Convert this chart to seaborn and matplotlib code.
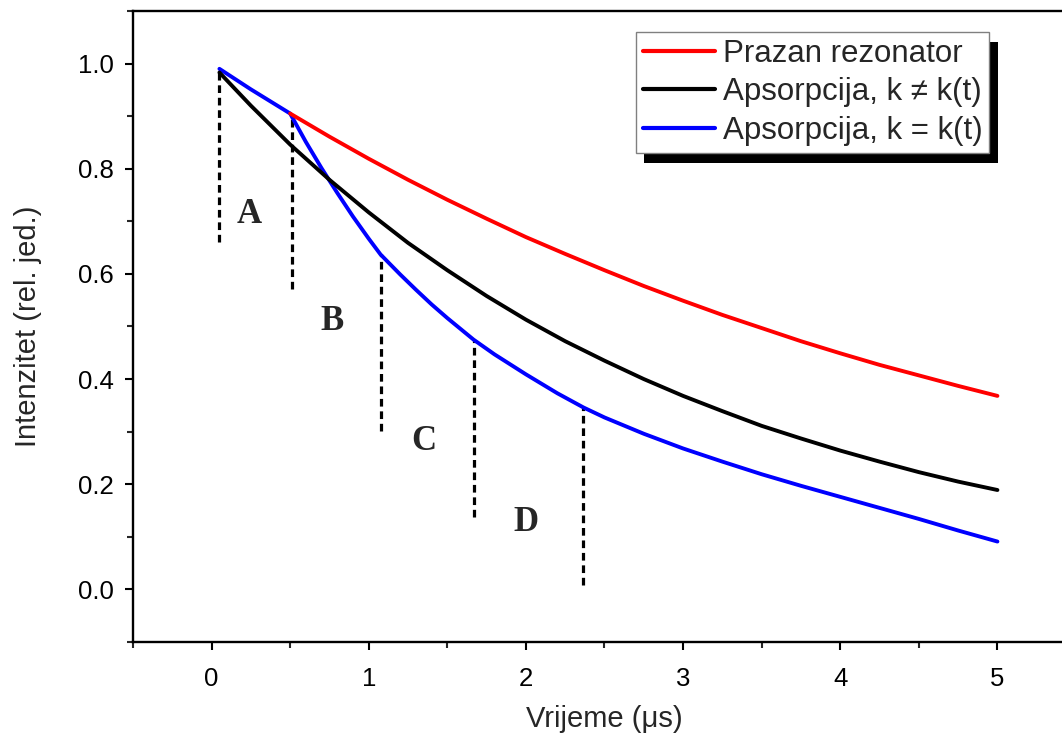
import matplotlib
matplotlib.use("Agg")
import matplotlib.pyplot as plt
import matplotlib.patheffects as pe
import numpy as np
import pandas as pd
import seaborn as sns

# ---------------- data ----------------
t_red = [0.5, 0.75, 1.0, 1.25, 1.5, 1.75, 2.0, 2.25, 2.5, 2.75, 3.0, 3.25,
         3.5, 3.75, 4.0, 4.25, 4.5, 4.75, 5.0]
i_red = [0.905, 0.861, 0.819, 0.779, 0.741, 0.705, 0.670, 0.638, 0.607, 0.577,
         0.549, 0.522, 0.497, 0.472, 0.449, 0.427, 0.407, 0.387, 0.368]

t_black = [0.05, 0.25, 0.5, 0.75, 1.0, 1.25, 1.5, 1.75, 2.0, 2.25, 2.5, 2.75,
           3.0, 3.25, 3.5, 3.75, 4.0, 4.25, 4.5, 4.75, 5.0]
i_black = [0.983, 0.920, 0.846, 0.779, 0.717, 0.659, 0.607, 0.558, 0.513, 0.472,
           0.435, 0.400, 0.368, 0.339, 0.311, 0.287, 0.264, 0.243, 0.223, 0.205,
           0.189]

t_blue = [0.05, 0.25, 0.5, 0.6, 0.7, 0.8, 0.9, 1.0, 1.075, 1.2, 1.3, 1.4, 1.5,
          1.667, 1.8, 2.0, 2.2, 2.366, 2.5, 2.75, 3.0, 3.25, 3.5, 3.75, 4.0,
          4.25, 4.5, 4.75, 5.0]
i_blue = [0.990, 0.951, 0.905, 0.851, 0.801, 0.754, 0.709, 0.667, 0.637, 0.599,
          0.570, 0.542, 0.516, 0.475, 0.447, 0.409, 0.373, 0.346, 0.327, 0.296,
          0.268, 0.243, 0.219, 0.197, 0.176, 0.155, 0.134, 0.112, 0.091]

series_names = ["Prazan rezonator", "Apsorpcija, k \u2260 k(t)", "Apsorpcija, k = k(t)"]
series_colors = ["#ff0000", "#000000", "#0000ff"]

# vertical dashed stage markers
marker_t = [0.05, 0.51, 1.075, 1.667, 2.366]
marker_top = [0.990, 0.905, 0.637, 0.475, 0.346]
marker_bottom = [0.660, 0.571, 0.302, 0.138, 0.008]

stage_labels = ["A", "B", "C", "D"]
stage_x = [0.242, 0.764, 1.35, 2.0]
stage_y = [0.713, 0.510, 0.281, 0.127]

x_ticks = [0, 1, 2, 3, 4, 5]
y_ticks = [0.0, 0.2, 0.4, 0.6, 0.8, 1.0]

# ---------------- figure ----------------
sns.set_style("ticks")
plt.rcParams["font.family"] = ["Liberation Sans", "DejaVu Sans"]

fig = plt.figure(figsize=(10.62, 7.42), dpi=100)
ax = fig.add_axes([0.1252, 0.1348, 0.888, 0.8504])

frames = []
for name, t, v in zip(series_names, [t_red, t_black, t_blue],
                      [i_red, i_black, i_blue]):
    frames.append(pd.DataFrame({"t": t, "I": v, "serija": name}))
df = pd.concat(frames, ignore_index=True)

# draw blue first, then black, then red on top where they coincide
for name, col in zip(series_names[::-1], series_colors[::-1]):
    sub = df[df["serija"] == name]
    sns.lineplot(data=sub, x="t", y="I", color=col, lw=2.8, ax=ax,
                 label=name, sort=False, estimator=None)

ax.vlines(marker_t, marker_bottom, marker_top, colors="black",
          linestyles=(0, (2.4, 1.5)), lw=2.3, zorder=1)

for lab, x, y in zip(stage_labels, stage_x, stage_y):
    ax.text(x, y, lab, ha="center", va="center", fontsize=25,
            fontweight="bold", family=["Liberation Serif", "DejaVu Serif"])

ax.set_xlim(-0.5, 5.5)
ax.set_ylim(-0.1, 1.1)
ax.set_xticks(x_ticks)
ax.set_yticks(y_ticks)
ax.set_xticklabels([str(v) for v in x_ticks])
ax.set_yticklabels([f"{v:.1f}" for v in y_ticks])
ax.set_xticks(np.arange(-0.5, 5.51, 0.5), minor=True)
ax.set_yticks(np.arange(-0.1, 1.101, 0.1), minor=True)
ax.tick_params(axis="both", which="major", direction="out", length=6,
               width=1.5, labelsize=18.5, colors="black")
ax.tick_params(axis="x", which="major", pad=12)
ax.tick_params(axis="y", which="major", pad=8)
ax.tick_params(axis="both", which="minor", direction="out", length=4,
               width=1.5)
for s in ["left", "bottom", "top"]:
    ax.spines[s].set_linewidth(1.7)
    ax.spines[s].set_color("black")
ax.spines["right"].set_visible(False)

ax.set_xlabel("Vrijeme (\u03bcs)", fontsize=21, labelpad=10)
ax.set_ylabel("Intenzitet (rel. jed.)", fontsize=21, labelpad=26)

handles, labels = ax.get_legend_handles_labels()
order = [labels.index(n) for n in series_names]
leg = ax.legend([handles[i] for i in order], [labels[i] for i in order],
                loc="upper right", bbox_to_anchor=(0.908, 0.967),
                borderaxespad=0, fancybox=False, frameon=True, fontsize=22.5,
                handlelength=2.3, handletextpad=0.26, labelspacing=0.28,
                borderpad=0.22, edgecolor="#808080", framealpha=1)
leg.get_frame().set_linewidth(1.0)
leg.legendPatch.set_path_effects([
    pe.SimplePatchShadow(offset=(6, -7), shadow_rgbFace="black", alpha=1.0),
    pe.Normal()])
for lh in leg.get_lines():
    lh.set_linewidth(3.0)

fig.savefig("out.png", dpi=100)
